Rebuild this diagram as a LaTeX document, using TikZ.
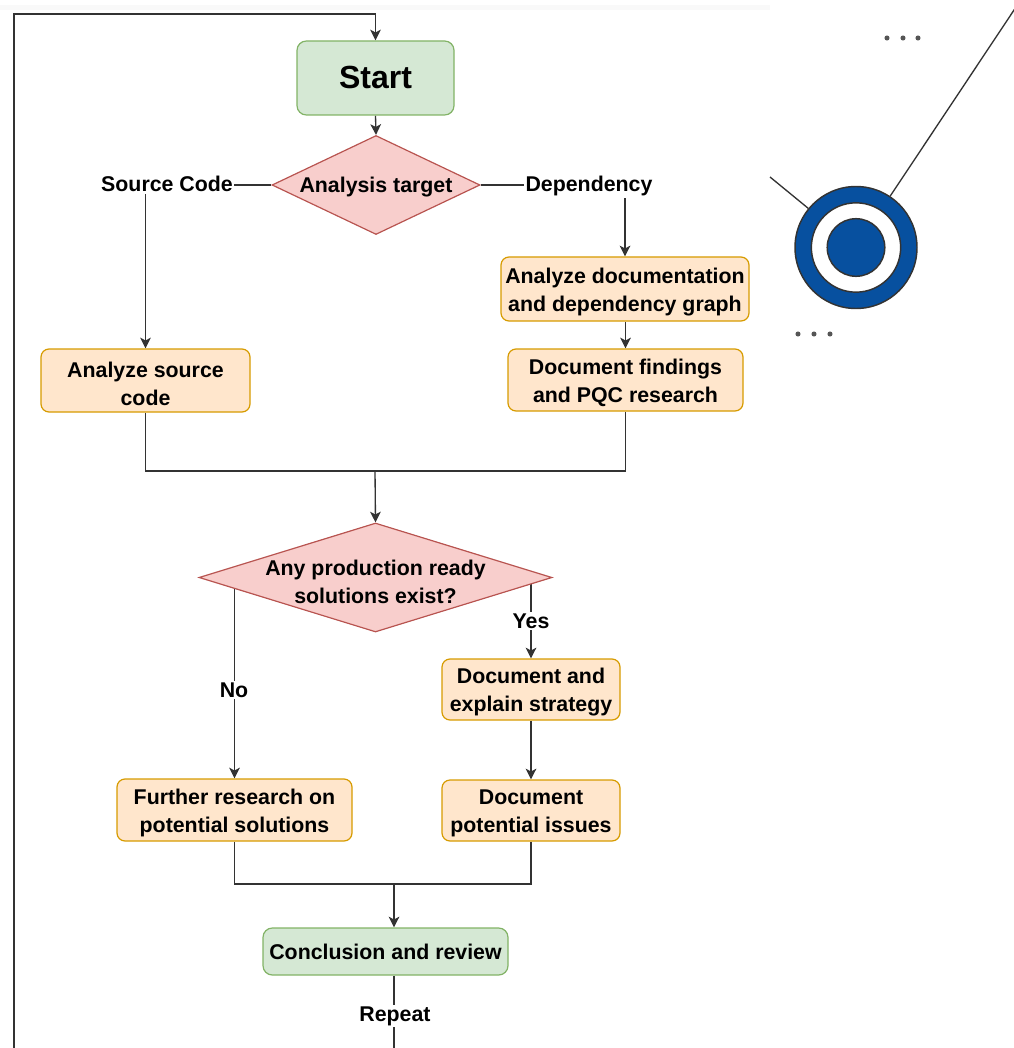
\documentclass[tikz,border=0pt]{standalone}
\usepackage{fontspec}
\setmainfont{Liberation Sans}
\usetikzlibrary{shapes.geometric,arrows.meta,backgrounds}
\definecolor{gfill}{HTML}{D5E8D4}
\definecolor{gline}{HTML}{82B366}
\definecolor{rfill}{HTML}{F8CECC}
\definecolor{rline}{HTML}{B85450}
\definecolor{ofill}{HTML}{FFE6CC}
\definecolor{oline}{HTML}{D79B00}
\definecolor{edgec}{HTML}{333333}
\definecolor{ringblue}{HTML}{07509F}
\definecolor{dotc}{HTML}{555555}
\begin{document}
\begin{tikzpicture}[x=0.75pt,y=-0.75pt,
  txt/.style={font=\fontsize{16}{21}\selectfont\bfseries, align=center},
  boxtext/.style={label={[txt,yshift=-2.25pt]center:#1}},
  greenbox/.style={draw=gline, fill=gfill, line width=0.9pt, rounded corners=7pt, inner sep=0pt},
  orangebox/.style={draw=oline, fill=ofill, line width=0.9pt, rounded corners=6pt, inner sep=0pt},
  decide/.style={diamond, draw=rline, fill=rfill, line width=0.9pt, inner sep=0pt, aspect=2},
  lbl/.style={txt, fill=white, inner sep=1pt, anchor=base},
  ln/.style={draw=edgec, line width=1pt},
  arr/.style={ln, -{Stealth[length=8pt,width=8pt,inset=2pt]}},
  ring/.style={circle, draw=edgec, line width=1.1pt, inner sep=0pt}]
\useasboundingbox (0,0) rectangle (1013,1048);
\fill[gray!5] (0,5) rectangle (770,10);

% nodes
\node[greenbox, minimum width=117.75pt, minimum height=55.5pt] (start) at (375.5,78) {};
\node[font=\fontsize{24}{28}\selectfont\bfseries, yshift=0.75pt] (startt) at (start) {Start};
\node[decide, minimum width=156pt, minimum height=74.25pt] (d1) at (376,185) {};
\node[txt, yshift=-1.5pt] (d1t) at (d1) {Analysis target};
\node[lbl] (src) at (167,192) {Source Code};
\node[lbl] (dep) at (589,192) {Dependency};
\node[orangebox, minimum width=186pt, minimum height=48pt, boxtext={Analyze documentation\\and dependency graph}] (ads) at (625,289) {};
\node[orangebox, minimum width=176.25pt, minimum height=46.5pt, boxtext={Document findings\\and PQC research}] (dfp) at (625.5,380) {};
\node[orangebox, minimum width=156.75pt, minimum height=47.25pt, boxtext={Analyze source\\code}] (asc) at (145.5,380.5) {};
\node[decide, minimum width=264.75pt, minimum height=81.75pt] (d2) at (375.5,577.5) {};
\node[txt, yshift=-3pt] (d2t) at (d2) {Any production ready\\solutions exist?};
\node[orangebox, minimum width=133.5pt, minimum height=45.75pt, boxtext={Document and\\explain strategy}] (des) at (531,689.5) {};
\node[orangebox, minimum width=133.5pt, minimum height=45.75pt, boxtext={Document\\potential issues}] (dpi) at (531,810.5) {};
\node[orangebox, minimum width=176.25pt, minimum height=46.5pt, boxtext={Further research on\\potential solutions}] (frp) at (234.5,810) {};
\node[greenbox, minimum width=183.75pt, minimum height=35.25pt] (concl) at (385.5,951.5) {};
\node[txt, yshift=-0.5pt] (conclt) at (concl) {Conclusion and review};
\node[lbl] (yes) at (531,628) {Yes};
\node[lbl] (no) at (234,697) {No};
\node[lbl] (rep) at (395,1021) {Repeat};

\coordinate (m1) at (375,471);
\coordinate (m2) at (394,884);
\coordinate (lb) at (14,1070);
\coordinate (rb) at (394,1070);
\coordinate (lt) at (14,14);
\coordinate (rt) at (375.5,14);

% target decoration
\node[ring, fill=ringblue, minimum size=91.5pt] (tgt) at (856,247.5) {};
\node[ring, fill=white, minimum size=67pt] (tgtw) at (tgt) {};
\node[ring, fill=ringblue, minimum size=43.2pt] (tgti) at (tgt) {};
\coordinate (ll) at (770,177);
\coordinate (ur) at (1030,-14);
\draw[ln] (ll) -- (tgt);
\draw[ln] (ur) -- (tgt);
\foreach \xx in {887,903,918} \fill[dotc] (\xx,38) circle (1.9pt);
\foreach \xx in {798,814,830} \fill[dotc] (\xx,334) circle (1.9pt);

% edges
\begin{scope}[on background layer]
\draw[arr] (start.south) -- (d1.north);
\draw[ln] (d1.west) -- (src.east |- d1.west);
\draw[ln] (d1.east) -- (dep.west |- d1.east);
\draw[arr] (src.south -| asc.north) -- (asc.north);
\draw[arr] (dep.south -| ads.north) -- (ads.north);
\draw[arr] (ads.south -| dfp.north) -- (dfp.north);
\draw[ln] (asc.south) |- (m1);
\draw[ln] (dfp.south) |- (m1);
\draw[arr] (m1) -- (d2.north);
\draw[arr] (d2.west -| frp.north) -- (frp.north);
\draw[arr] (d2.east -| des.north) -- (des.north);
\draw[arr] (des.south) -- (dpi.north);
\draw[ln] (frp.south) |- (m2);
\draw[ln] (dpi.south) |- (m2);
\draw[arr] (m2) -- (m2 |- concl.north);
\begin{scope}
\clip (0,0) rectangle (1013,1048);
\draw[arr] (m2 |- concl.south) -- (rb) -- (lb) -- (lt) -- (rt) -- (start.north);
\end{scope}
\end{scope}
\end{tikzpicture}
\end{document}
